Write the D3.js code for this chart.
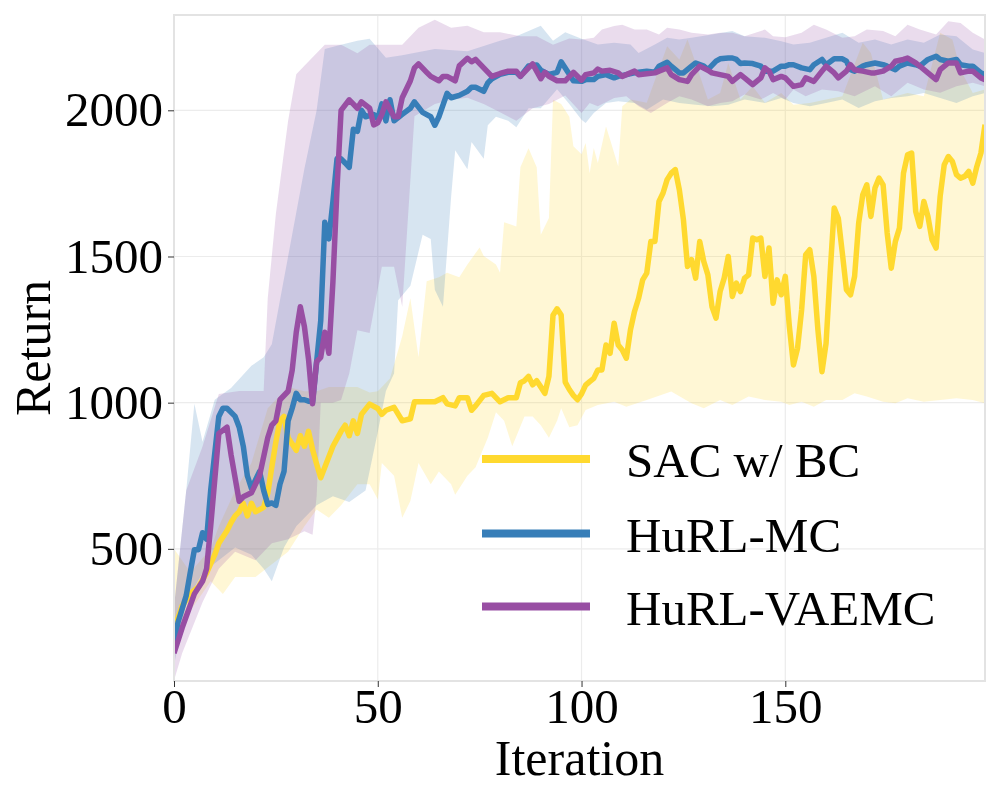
<!DOCTYPE html>
<html lang="en">
<head>
<meta charset="UTF-8">
<title>Return vs Iteration</title>
<script src="https://d3js.org/d3.v7.min.js"></script>
<style>
    body { margin: 0; background: #fff; }
    svg { display: block; font-family: "Liberation Serif", "Times New Roman", serif; }
    .tick text { font-family: "Liberation Serif", "Times New Roman", serif; font-size: 49px; fill: #000; }
    .tick line { stroke: #333; }
    .axis-label { font-size: 50px; fill: #000; }
    .legend-label { font-size: 49px; fill: #000; }
</style>
</head>
<body>
<svg width="1000" height="800"></svg>
<script>
    // ---- data: [iteration, return] ----
    const seriesNames = ["SAC w/ BC", "HuRL-MC", "HuRL-VAEMC"];
    const seriesColors = ["#ffd92f", "#377eb8", "#984ea3"];
    const xTicks = [0, 50, 100, 150];
    const yTicks = [500, 1000, 1500, 2000];

    const sacMean = [[0,223],[2,305],[4,346],[6,370],[8,418],[10,480],[11,519],[13,562],[14,590],[15,613],[16,627],[17,656],[18,613],[19,656],[20,627],[22,642],[23,690],[24,780],[25,866],[26,938],[27,953],[28,880],[30,837],[31,887],[32,851],[33,902],[34,840],[35,790],[36,743],[37,779],[39,851],[41,902],[42,923],[43,887],[44,938],[45,895],[46,960],[48,995],[50,980],[51,960],[52,974],[54,984],[56,938],[58,945],[59,1003],[61,1003],[64,1003],[66,1017],[67,996],[69,989],[70,1017],[72,1017],[73,974],[74,989],[76,1025],[78,1032],[80,1003],[82,1017],[84,1017],[85,1068],[86,1075],[87,1090],[88,1061],[89,1075],[90,1054],[91,1032],[92,1090],[93,1299],[94,1321],[95,1300],[96,1070],[97,1045],[98,1025],[99,1010],[100,1030],[101,1060],[102,1072],[103,1083],[104,1112],[105,1112],[106,1197],[107,1169],[108,1272],[109,1197],[110,1180],[111,1152],[112,1249],[113,1312],[114,1357],[115,1420],[116,1443],[117,1551],[118,1551],[119,1688],[120,1717],[121,1763],[122,1785],[123,1797],[124,1728],[125,1626],[126,1466],[127,1489],[128,1426],[129,1551],[130,1483],[131,1437],[132,1329],[133,1289],[134,1380],[135,1426],[136,1500],[137,1363],[138,1409],[139,1380],[140,1426],[141,1437],[142,1563],[143,1557],[144,1563],[145,1432],[146,1529],[147,1340],[148,1420],[149,1369],[150,1432],[151,1260],[152,1129],[153,1186],[154,1317],[155,1506],[156,1523],[157,1432],[158,1249],[159,1106],[160,1203],[161,1443],[162,1666],[163,1631],[164,1511],[165,1386],[166,1369],[167,1432],[168,1614],[169,1711],[170,1745],[171,1637],[172,1734],[173,1768],[174,1745],[175,1580],[176,1460],[177,1551],[178,1597],[179,1785],[180,1848],[181,1854],[182,1654],[183,1603],[184,1688],[185,1637],[186,1557],[187,1529],[188,1706],[189,1814],[190,1842],[191,1825],[192,1780],[193,1768],[194,1774],[195,1791],[196,1751],[197,1808],[198,1854],[199,1951]];
    const sacUpper = [[0,500],[4,420],[9,500],[11,577],[15,700],[19,794],[23,981],[28,1054],[32,1039],[35,1039],[38,1054],[41,1054],[45,1054],[48,1035],[50,1039],[53,1083],[56,1227],[58,1357],[60,1155],[62,1415],[65,1429],[67,1444],[70,1429],[72,1473],[75,1531],[76,1502],[79,1473],[80,1444],[81,1617],[84,1603],[85,1805],[87,1870],[89,1805],[90,1574],[92,1632],[93,2036],[95,2022],[97,1978],[98,1877],[100,1850],[101,1888],[102,1785],[103,1871],[104,1820],[106,1945],[107,1900],[109,1808],[110,2014],[112,2037],[116,2026],[121,2219],[124,2174],[126,2242],[128,2162],[131,2037],[134,2059],[136,2162],[139,2037],[142,2082],[145,2026],[149,2059],[152,2019],[156,2025],[160,2037],[164,2048],[169,2231],[171,2196],[174,2037],[177,2048],[180,2059],[184,2048],[188,2265],[191,2242],[193,2139],[196,2059],[199,2071]];
    const sacLower = [[0,150],[4,288],[9,389],[12,346],[15,404],[20,404],[24,447],[28,490],[32,577],[35,635],[38,606],[41,649],[45,721],[48,721],[50,670],[51,794],[54,750],[56,606],[58,664],[60,794],[63,721],[65,765],[68,721],[69,685],[72,750],[74,779],[77,880],[79,967],[81,938],[83,851],[86,953],[88,953],[90,923],[92,880],[94,938],[95,981],[97,916],[99,923],[101,975],[104,992],[108,1003],[111,986],[116,1009],[122,1038],[127,998],[130,981],[134,1009],[137,992],[141,1021],[145,1009],[149,1003],[151,992],[154,1003],[157,986],[160,1009],[164,1009],[167,1032],[170,1021],[174,1003],[177,998],[180,1015],[184,1003],[188,1009],[192,1015],[196,1009],[199,998]];

    const mcMean = [[0,172],[1,250],[3,340],[4,420],[5,497],[6,497],[7,555],[8,533],[9,700],[11,953],[12,981],[13,981],[15,953],[16,916],[17,851],[18,750],[19,707],[20,736],[21,765],[22,700],[23,652],[24,657],[25,649],[26,721],[27,765],[28,938],[29,981],[30,1032],[31,1010],[32,1010],[33,1005],[34,1003],[35,1140],[36,1280],[37,1617],[38,1560],[39,1689],[40,1834],[41,1834],[42,1820],[43,1805],[44,1935],[45,1928],[46,2000],[47,1978],[49,1986],[50,1971],[51,2022],[52,1964],[53,2036],[54,1964],[56,1986],[58,2007],[59,2029],[61,1993],[63,1978],[64,1949],[65,1978],[67,2058],[68,2043],[70,2051],[72,2065],[73,2079],[74,2079],[76,2065],[77,2094],[78,2108],[80,2123],[82,2130],[84,2130],[85,2116],[87,2152],[89,2155],[90,2137],[92,2123],[94,2130],[95,2166],[97,2123],[98,2101],[100,2099],[101,2105],[103,2105],[104,2116],[106,2122],[108,2111],[109,2116],[111,2122],[113,2128],[114,2130],[116,2134],[118,2130],[119,2151],[121,2164],[122,2151],[124,2128],[125,2128],[127,2151],[128,2162],[130,2151],[131,2139],[133,2168],[134,2176],[136,2179],[137,2179],[138,2174],[139,2160],[140,2162],[142,2160],[144,2151],[145,2134],[147,2134],[149,2151],[150,2151],[151,2156],[152,2156],[154,2145],[156,2139],[157,2156],[159,2174],[160,2156],[162,2176],[164,2176],[165,2168],[166,2139],[167,2134],[169,2151],[170,2156],[172,2162],[174,2156],[175,2151],[177,2139],[178,2151],[180,2162],[182,2156],[183,2151],[185,2174],[187,2185],[188,2174],[190,2168],[192,2174],[193,2156],[195,2151],[196,2151],[198,2128],[199,2122]];
    const mcUpper = [[0,300],[3,700],[5,996],[7,866],[10,1010],[14,1050],[19,1126],[22,1155],[24,1200],[28,1500],[32,1800],[35,2000],[37,2210],[41,2224],[45,2238],[48,2245],[52,2180],[56,2188],[64,2210],[72,2202],[80,2238],[84,2253],[90,2289],[93,2238],[96,2267],[100,2245],[104,2225],[108,2231],[112,2225],[114,2196],[118,2225],[121,2248],[124,2242],[127,2248],[132,2259],[137,2271],[140,2253],[145,2248],[149,2236],[152,2225],[156,2231],[160,2248],[164,2265],[168,2231],[172,2242],[176,2225],[180,2242],[184,2231],[188,2259],[192,2253],[196,2208],[199,2196]];
    const mcLower = [[0,100],[3,317],[7,418],[11,461],[15,505],[19,480],[22,432],[24,389],[27,505],[30,577],[35,649],[39,680],[43,660],[47,700],[50,900],[52,1040],[54,1100],[55,1350],[58,1400],[61,1574],[63,1560],[64,1386],[66,1328],[68,1704],[69,1863],[72,1798],[73,1892],[76,1834],[77,1949],[79,1978],[82,1964],[84,1942],[87,2007],[90,2007],[94,2072],[97,2022],[100,1968],[101,1957],[103,1991],[106,2025],[109,2031],[113,2025],[116,2002],[120,2037],[124,2025],[128,2019],[132,2014],[136,2019],[140,2037],[145,2025],[149,2042],[152,2025],[156,2014],[160,2025],[164,2037],[168,2008],[172,2031],[176,2042],[180,2048],[184,2059],[188,2042],[192,2025],[196,2048],[199,2059]];

    const vaeMean = [[0,143],[2,230],[5,346],[7,389],[8,432],[9,577],[11,895],[13,916],[14,822],[16,663],[17,678],[19,692],[21,750],[23,880],[24,923],[25,938],[26,1010],[28,1039],[29,1111],[30,1241],[31,1328],[32,1260],[33,1150],[34,996],[35,1140],[36,1155],[37,1241],[38,1169],[39,1415],[40,1733],[41,2000],[43,2036],[45,2007],[46,2029],[48,2007],[49,1950],[50,1957],[51,1986],[52,2029],[54,1978],[55,1978],[56,2043],[58,2101],[59,2145],[60,2159],[62,2130],[63,2116],[65,2101],[66,2116],[67,2116],[69,2101],[70,2152],[72,2178],[73,2166],[74,2174],[76,2145],[78,2116],[80,2126],[82,2134],[84,2134],[85,2116],[87,2145],[88,2159],[90,2108],[91,2130],[92,2116],[94,2101],[96,2101],[98,2130],[100,2103],[101,2122],[103,2128],[104,2141],[105,2134],[107,2137],[109,2128],[110,2116],[112,2128],[113,2134],[114,2122],[116,2125],[118,2128],[119,2134],[121,2145],[122,2122],[124,2105],[126,2099],[127,2122],[129,2151],[131,2137],[132,2128],[134,2122],[136,2116],[137,2099],[139,2122],[140,2111],[142,2088],[144,2111],[145,2145],[146,2134],[147,2105],[149,2116],[150,2111],[152,2082],[154,2088],[155,2111],[157,2099],[159,2134],[160,2151],[162,2128],[163,2111],[165,2134],[166,2156],[167,2139],[169,2134],[171,2128],[172,2128],[174,2134],[176,2151],[177,2168],[179,2174],[180,2179],[182,2162],[183,2151],[185,2128],[187,2105],[188,2139],[190,2162],[192,2162],[193,2128],[195,2134],[196,2134],[198,2111],[199,2105]];
    const vaeUpper = [[0,300],[3,700],[7,850],[11,1030],[16,1040],[22,1040],[23,1357],[25,1646],[28,1964],[30,2123],[32,2152],[37,2224],[41,2224],[45,2195],[48,2224],[52,2224],[56,2224],[60,2282],[64,2310],[68,2282],[72,2289],[76,2267],[80,2267],[85,2253],[89,2253],[93,2224],[97,2246],[100,2242],[103,2248],[105,2276],[108,2288],[110,2293],[113,2276],[116,2276],[119,2259],[121,2282],[124,2276],[127,2265],[131,2259],[134,2265],[137,2265],[140,2253],[145,2276],[147,2253],[150,2250],[154,2265],[157,2293],[160,2276],[164,2248],[167,2253],[170,2276],[174,2271],[177,2253],[180,2293],[183,2276],[187,2259],[190,2305],[193,2299],[196,2265],[199,2242]];
    const vaeLower = [[0,50],[2,143],[7,317],[11,432],[15,490],[20,461],[24,519],[28,533],[32,560],[34,548],[35,680],[36,1000],[39,1000],[41,1009],[43,1100],[45,1248],[48,1238],[51,1465],[54,1465],[56,1328],[58,1762],[59,1980],[64,2022],[68,2036],[72,2043],[76,2022],[80,1993],[84,1964],[88,2007],[92,2022],[96,2051],[100,1991],[102,2025],[104,2014],[108,2042],[111,2048],[114,2014],[117,1991],[121,2025],[124,2048],[127,2037],[131,2014],[134,2025],[137,2031],[140,2054],[144,2037],[147,2059],[150,2037],[152,2071],[155,2048],[159,2071],[163,2065],[167,2048],[172,2082],[176,2048],[180,2094],[184,2071],[188,2060],[192,2082],[196,2094],[199,2082]];

    const means = [sacMean, mcMean, vaeMean];
    const uppers = [sacUpper, mcUpper, vaeUpper];
    const lowers = [sacLower, mcLower, vaeLower];

    // ---- layout ----
    const width = 1000;
    const height = 800;
    const margin = { top: 15, right: 15, bottom: 119, left: 174 };
    const plotW = width - margin.left - margin.right;
    const plotH = height - margin.top - margin.bottom;

    const svg = d3.select("svg").attr("width", width).attr("height", height);

    const x = d3.scaleLinear().domain([0, 199]).range([margin.left, margin.left + plotW]);
    const y = d3.scaleLinear().domain([48, 2326]).range([margin.top + plotH, margin.top]);

    svg.append("defs").append("clipPath").attr("id", "plot-clip")
        .append("rect")
        .attr("x", margin.left).attr("y", margin.top)
        .attr("width", plotW).attr("height", plotH);

    // grid lines
    const grid = svg.append("g").attr("class", "grid");
    grid.selectAll(".gx").data(xTicks).join("line")
        .attr("x1", d => x(d)).attr("x2", d => x(d))
        .attr("y1", margin.top).attr("y2", margin.top + plotH)
        .attr("stroke", "#ececec").attr("stroke-width", 1.2);
    grid.selectAll(".gy").data(yTicks).join("line")
        .attr("x1", margin.left).attr("x2", margin.left + plotW)
        .attr("y1", d => y(d)).attr("y2", d => y(d))
        .attr("stroke", "#ececec").attr("stroke-width", 1.2);

    const plot = svg.append("g").attr("clip-path", "url(#plot-clip)");
    const line = d3.line().x(d => x(d[0])).y(d => y(d[1]));

    // shaded bands: upper edge forward, lower edge back
    seriesNames.forEach((name, i) => {
        const poly = uppers[i].concat(lowers[i].slice().reverse());
        plot.append("path")
            .attr("d", line(poly) + "Z")
            .attr("fill", seriesColors[i])
            .attr("fill-opacity", 0.2)
            .attr("stroke", "none");
    });

    // mean curves
    seriesNames.forEach((name, i) => {
        plot.append("path")
            .datum(means[i])
            .attr("d", line)
            .attr("fill", "none")
            .attr("stroke", seriesColors[i])
            .attr("stroke-width", 5.5)
            .attr("stroke-linejoin", "round");
    });

    // frame
    svg.append("rect")
        .attr("x", margin.left).attr("y", margin.top)
        .attr("width", plotW).attr("height", plotH)
        .attr("fill", "none").attr("stroke", "#e3e3e3").attr("stroke-width", 2);

    // x axis
    const gx = svg.append("g")
        .attr("transform", `translate(0,${margin.top + plotH})`)
        .call(d3.axisBottom(x).tickValues(xTicks).tickSize(6).tickFormat(d3.format("d")));
    gx.attr("font-family", null).attr("font-size", null);
    gx.select(".domain").remove();
    gx.selectAll("text").attr("dy", null).attr("y", 42);

    // y axis
    const gy = svg.append("g")
        .attr("transform", `translate(${margin.left},0)`)
        .call(d3.axisLeft(y).tickValues(yTicks).tickSize(6).tickPadding(5).tickFormat(d3.format("d")));
    gy.attr("font-family", null).attr("font-size", null);
    gy.select(".domain").remove();

    // axis titles
    svg.append("text").attr("class", "axis-label")
        .attr("x", margin.left + plotW / 2).attr("y", 775)
        .attr("text-anchor", "middle").text("Iteration");
    svg.append("text").attr("class", "axis-label")
        .attr("transform", `translate(50,${margin.top + plotH / 2}) rotate(-90)`)
        .attr("text-anchor", "middle").text("Return");

    // legend
    const legend = svg.append("g").attr("class", "legend");
    const legendY = [459, 533.5, 606.5];
    seriesNames.forEach((name, i) => {
        legend.append("line")
            .attr("x1", 482).attr("x2", 590)
            .attr("y1", legendY[i]).attr("y2", legendY[i])
            .attr("stroke", seriesColors[i]).attr("stroke-width", 8);
        legend.append("text").attr("class", "legend-label")
            .attr("x", 626).attr("y", legendY[i] + 18)
            .text(name);
    });
</script>
</body>
</html>
